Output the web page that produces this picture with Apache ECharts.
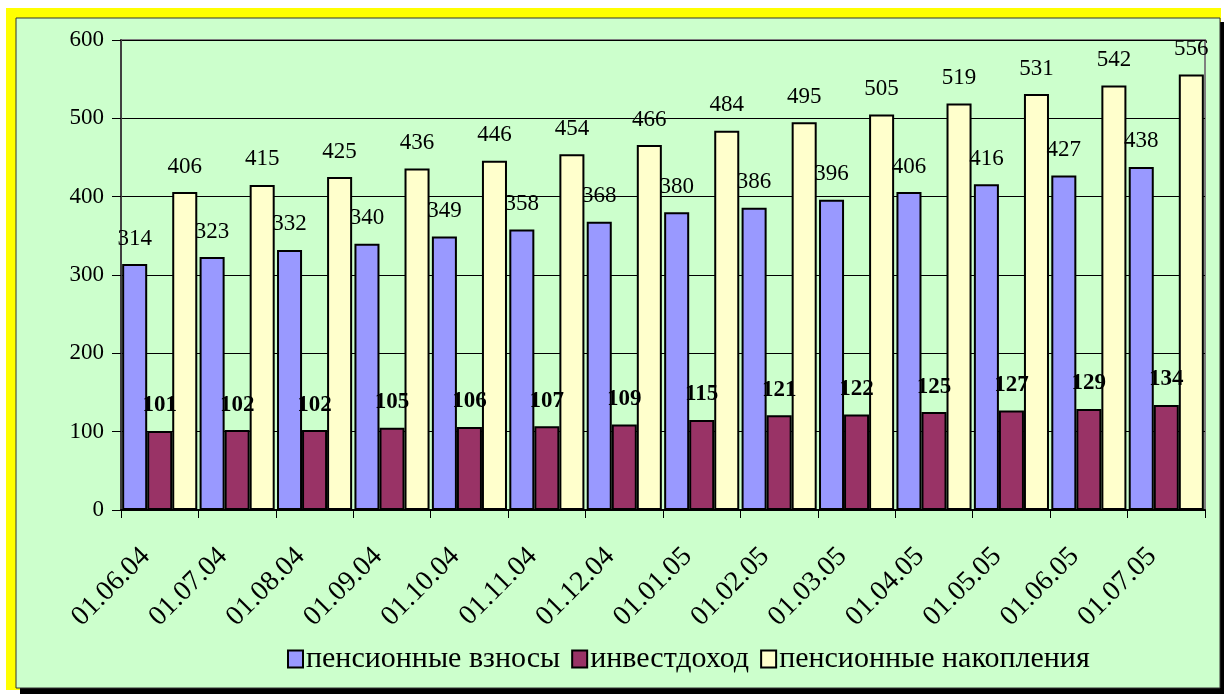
<!DOCTYPE html>
<html><head><meta charset="utf-8">
<script src="https://cdn.jsdelivr.net/npm/echarts@6/dist/echarts.min.js"></script>
<style>html,body{margin:0;padding:0;background:#fff;}#c{width:1224px;height:694px;}</style>
</head><body><div id="c"></div>
<script>
const categories = ['01.06.04','01.07.04','01.08.04','01.09.04','01.10.04','01.11.04','01.12.04','01.01.05','01.02.05','01.03.05','01.04.05','01.05.05','01.06.05','01.07.05'];
const contributions = [314,323,332,340,349,358,368,380,386,396,406,416,427,438];
const investIncome = [101,102,102,105,106,107,109,115,121,122,125,127,129,134];
const savings = [406,415,425,436,446,454,466,484,495,505,519,531,542,556];
const yTicks = [0,100,200,300,400,500,600];

const FONT = '"Liberation Serif", "Times New Roman", serif';
const chart = echarts.init(document.getElementById('c'));
const barBorder = {borderColor:'#000', borderWidth:2};
function mk(name, data, color, bold){
  return {
    name, type:'bar', data,
    itemStyle:Object.assign({color}, barBorder),
    barGap:'0%', barCategoryGap:'3%',
    label:{show:true, position:'top', distance:14, color:'#000', fontFamily:FONT, fontSize:23, fontWeight: bold?'bold':'normal'}
  };
}
chart.setOption({
  animation:false,
  textStyle:{fontFamily:FONT},
  graphic:[
    {type:'rect', z:-10, shape:{x:6,y:8,width:1215,height:682}, style:{fill:'#FFFF00'}, silent:true},
    {type:'rect', z:-9, shape:{x:20,y:22,width:1204,height:672}, style:{fill:'#000'}, silent:true},
    {type:'rect', z:-8, shape:{x:16,y:18,width:1204,height:670}, style:{fill:'#CCFFCC', stroke:'#333', lineWidth:1}, silent:true}
  ],
  grid:{left:121, right:19, top:40, bottom:184, show:true, borderColor:'#808080', borderWidth:2, backgroundColor:'transparent'},
  legend:{
    top:639, left:282, itemWidth:15, itemHeight:17, itemGap:11,
    icon:'rect',
    itemStyle:{borderColor:'#000', borderWidth:2},
    textStyle:{fontFamily:FONT, fontSize:30, color:'#000', padding:[0,0,0,-2]},
    data:['пенсионные взносы','инвестдоход','пенсионные накопления']
  },
  xAxis:{
    type:'category', data:categories,
    axisLine:{lineStyle:{color:'#000', width:2}},
    axisTick:{show:true, length:8, lineStyle:{color:'#000'}},
    axisLabel:{rotate:45, margin:28, padding:[0,20,0,0], fontFamily:FONT, fontSize:28, color:'#000'}
  },
  yAxis:{
    type:'value', min:yTicks[0], max:yTicks[yTicks.length-1], interval:100,
    axisLine:{show:true, lineStyle:{color:'#404040', width:2}},
    axisTick:{show:true, length:9, inside:false, lineStyle:{color:'#000'}},
    axisLabel:{margin:17, fontFamily:FONT, fontSize:23, color:'#000'},
    splitLine:{lineStyle:{color:'#000', width:1}}
  },
  series:[
    mk('пенсионные взносы', contributions, '#9999FF', false),
    mk('инвестдоход', investIncome, '#993366', true),
    mk('пенсионные накопления', savings, '#FFFFCC', false)
  ]
});
</script></body></html>
